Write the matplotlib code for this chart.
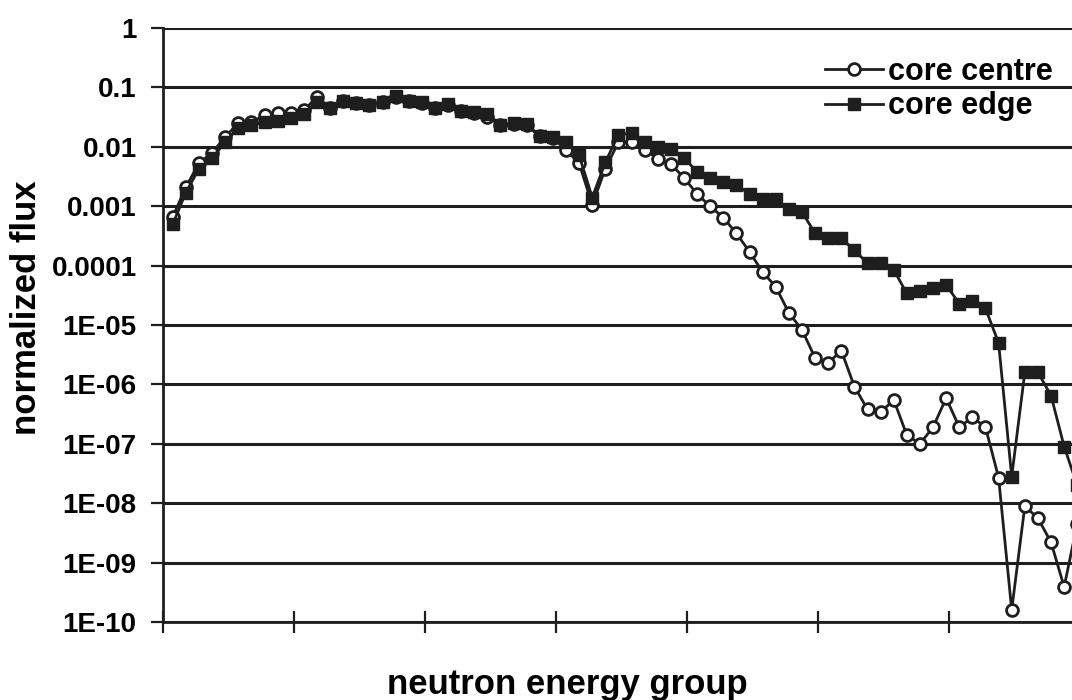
import numpy as np
from matplotlib import pyplot as plt
from matplotlib.ticker import FixedLocator, NullFormatter, NullLocator

plt.rcParams['font.family'] = ['Liberation Sans', 'DejaVu Sans']
plt.rcParams['font.weight'] = 'bold'
plt.rcParams['axes.labelweight'] = 'bold'

# neutron energy groups 1..70 (chart is cropped at the right edge)
groups = np.arange(1, 71)

core_centre = [
    6.6e-4, 2.1e-3, 5.3e-3, 7.9e-3, 0.0147, 0.025, 0.026, 0.034, 0.037, 0.037,
    0.041, 0.069, 0.045, 0.06, 0.055, 0.05, 0.057, 0.07, 0.06, 0.055,
    0.045, 0.05, 0.04, 0.037, 0.032, 0.023, 0.024, 0.023, 0.015, 0.014,
    0.0088, 0.0053, 1.05e-3, 0.0043, 0.012, 0.012, 0.009, 0.0063, 0.0051, 0.003,
    0.0016, 1.0e-3, 6.4e-4, 3.5e-4, 1.7e-4, 7.8e-5, 4.4e-5, 1.6e-5, 8.3e-6, 2.8e-6,
    2.3e-6, 3.7e-6, 9.2e-7, 3.8e-7, 3.4e-7, 5.5e-7, 1.4e-7, 1.0e-7, 1.9e-7, 5.9e-7,
    1.9e-7, 2.8e-7, 1.9e-7, 2.7e-8, 1.6e-10, 8.9e-9, 5.6e-9, 2.2e-9, 3.9e-10, 4.5e-9,
]

core_edge = [
    5.0e-4, 1.7e-3, 4.3e-3, 6.5e-3, 0.012, 0.021, 0.023, 0.026, 0.027, 0.03,
    0.036, 0.057, 0.045, 0.06, 0.055, 0.05, 0.057, 0.072, 0.06, 0.057,
    0.045, 0.053, 0.04, 0.038, 0.036, 0.023, 0.025, 0.024, 0.015, 0.0146,
    0.012, 0.0072, 0.0014, 0.0055, 0.016, 0.017, 0.012, 0.01, 0.0093, 0.0065,
    0.0038, 0.003, 0.0026, 0.0023, 0.0016, 0.0013, 0.0013, 9.0e-4, 8.0e-4, 3.5e-4,
    2.9e-4, 2.9e-4, 1.8e-4, 1.1e-4, 1.1e-4, 8.5e-5, 3.4e-5, 3.8e-5, 4.2e-5, 4.7e-5,
    2.3e-5, 2.5e-5, 1.9e-5, 5.0e-6, 2.8e-8, 1.6e-6, 1.6e-6, 6.5e-7, 9.0e-8, 2.0e-8,
]

y_ticks = [1, 0.1, 0.01, 0.001, 0.0001, 1e-5, 1e-6, 1e-7, 1e-8, 1e-9, 1e-10]
y_labels = ['1', '0.1', '0.01', '0.001', '0.0001', '1E-05', '1E-06',
            '1E-07', '1E-08', '1E-09', '1E-10']

ink = '#1e1e1e'

fig = plt.figure(figsize=(10.72, 7.0), dpi=100)
ax = fig.add_axes([0.152, 0.1114, 0.848, 0.8486])

ax.plot(groups, core_centre, '-o', color=ink, lw=2.0, ms=8.5,
        mfc='white', mec=ink, mew=2.0, label='core centre')
ax.plot(groups, core_edge, '-s', color=ink, lw=2.0, ms=8.5,
        mfc=ink, mec=ink, label='core edge')

ax.set_yscale('log')
ax.set_ylim(1e-10, 1)
ax.set_xlim(0.25, 69.6)

ax.yaxis.set_major_locator(FixedLocator(y_ticks))
ax.set_yticklabels(y_labels)
ax.yaxis.set_minor_locator(NullLocator())
ax.yaxis.set_minor_formatter(NullFormatter())
ax.grid(axis='y', color=ink, lw=2.2)

ax.set_xticks([0.25 + 10 * k for k in range(7)])
ax.set_xticklabels([])
ax.tick_params(axis='x', direction='inout', length=16, width=1.6, color=ink)
ax.tick_params(axis='y', direction='out', length=9, width=1.6, color=ink,
               labelsize=20, pad=10)

for side in ['top', 'right']:
    ax.spines[side].set_visible(False)
ax.spines['left'].set_linewidth(2)
ax.spines['bottom'].set_linewidth(2)
ax.spines['left'].set_color(ink)
ax.spines['bottom'].set_color(ink)

ax.set_ylabel('normalized flux', fontsize=25)
ax.set_xlabel('neutron energy group', fontsize=25)
ax.yaxis.set_label_coords(-0.132, 0.53)
ax.xaxis.set_label_coords(0.445, -0.077)

ax.legend(loc='upper left', bbox_to_anchor=(0.715, 0.972), frameon=False,
          fontsize=22, handlelength=1.9, handletextpad=0.15, labelspacing=0.15,
          borderaxespad=0)

fig.savefig('out.png', dpi=100)
